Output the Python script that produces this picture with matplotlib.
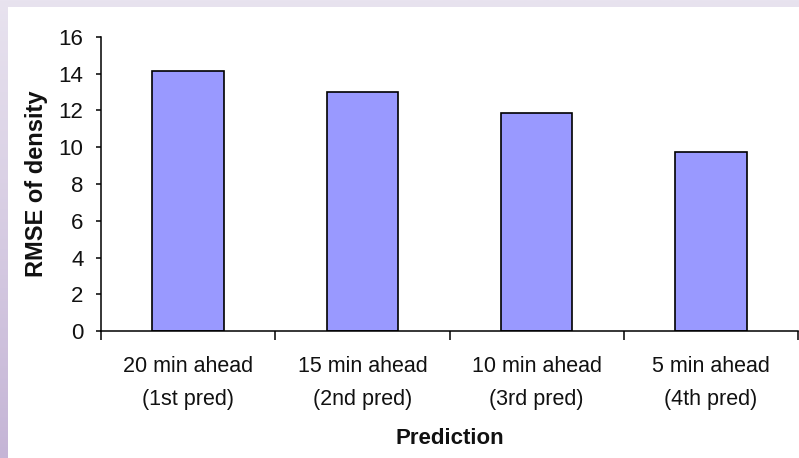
import numpy as np
import matplotlib
matplotlib.use("Agg")
import matplotlib.pyplot as plt
from matplotlib.colors import LinearSegmentedColormap
from matplotlib.patches import Rectangle

# Chart data
categories = ["20 min ahead\n(1st pred)", "15 min ahead\n(2nd pred)",
              "10 min ahead\n(3rd pred)", "5 min ahead\n(4th pred)"]
rmse = [14.15, 13.0, 11.85, 9.75]
y_ticks = [0, 2, 4, 6, 8, 10, 12, 14, 16]

plt.rcParams['font.family'] = ['Liberation Sans', 'DejaVu Sans']

W, H = 799, 458
fig = plt.figure(figsize=(W / 100, H / 100), dpi=100)

# lavender slide background with gradient, white panel on top
bg = fig.add_axes([0, 0, 1, 1], zorder=-10)
grad = np.linspace(0, 1, 256).reshape(-1, 1)
cmap = LinearSegmentedColormap.from_list("lav", ["#e8e3ef", "#c5b5d6"])
bg.imshow(grad, aspect="auto", cmap=cmap, extent=[0, 1, 0, 1], origin="upper")
bg.add_patch(Rectangle((8 / W, 0), 1, 1 - 7 / H, facecolor="white",
                       edgecolor="none", transform=bg.transAxes))
bg.set_xlim(0, 1)
bg.set_ylim(0, 1)
bg.axis("off")

ax = fig.add_axes([101 / W, 1 - 331 / H, 697 / W, 294 / H])
ax.patch.set_alpha(0)
x = np.arange(len(categories))
ax.bar(x, rmse, width=0.41, color="#9999ff", edgecolor="black", linewidth=1.2)

ax.set_xlim(-0.5, len(categories) - 0.5)
ax.set_ylim(0, 16)
ax.set_yticks(y_ticks)
ax.tick_params(axis="y", labelsize=16, length=3.6, width=1.1, pad=9,
               labelcolor="#111111")

# ticks at category boundaries, labels at centres
ax.set_xticks(np.arange(-0.5, len(categories), 1.0))
ax.set_xticklabels([])
ax.set_xticks(x, minor=True)
ax.set_xticklabels(categories, minor=True, fontsize=15.5, linespacing=1.75,
                   color="#111111")
ax.tick_params(axis="x", which="major", length=6.5, width=1.1)
ax.tick_params(axis="x", which="minor", length=0, pad=18)

for side in ["top", "right"]:
    ax.spines[side].set_visible(False)
for side in ["left", "bottom"]:
    ax.spines[side].set_linewidth(1.1)

ax.set_ylabel("RMSE of density", fontsize=17, fontweight="bold", labelpad=8,
              color="#111111")
ax.set_xlabel("Prediction", fontsize=16, fontweight="bold", labelpad=13,
              color="#111111")

fig.savefig("out.png", dpi=100)
